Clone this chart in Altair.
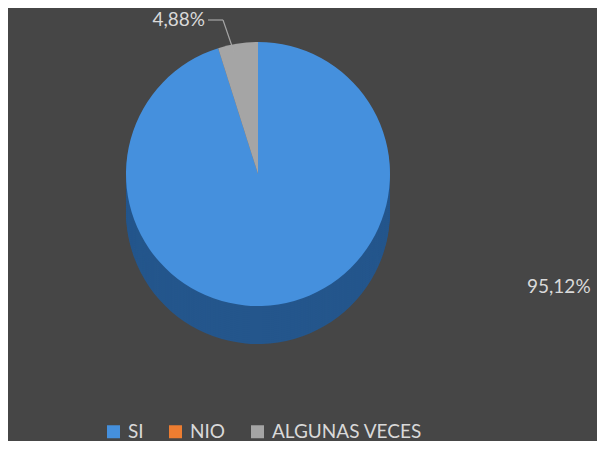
import altair as alt
import pandas as pd

categories = ["SI", "NIO", "ALGUNAS VECES"]
values = [95.12, 0.0, 4.88]
labels = ["95,12%", "", "4,88%"]
top_colors = ["#4590dd", "#ed7d31", "#a5a5a5"]
side_colors = ["#24568c", "#9c4f18", "#6b6b6b"]

df = pd.DataFrame({
    "cat": categories,
    "val": values,
    "label": labels,
    "idx": list(range(len(categories))),
    "side": side_colors,
})

W, H = 589, 433
CX, CY, R = 250, 166, 132
DEPTH = 38

base = alt.Chart(df)

layers = []
for d in range(DEPTH, 0, -2):
    layers.append(
        base.mark_arc(outerRadius=R, stroke=None).encode(
            theta=alt.Theta("val:Q", stack=True),
            order=alt.Order("idx:Q"),
            color=alt.Color("side:N", scale=None),
            x=alt.value(CX),
            y=alt.value(CY + d),
        )
    )

top = base.mark_arc(outerRadius=R, stroke=None).encode(
    theta=alt.Theta("val:Q", stack=True),
    order=alt.Order("idx:Q"),
    color=alt.Color(
        "cat:N",
        scale=alt.Scale(domain=categories, range=top_colors),
        sort=categories,
        legend=alt.Legend(
            title=None,
            orient="none",
            legendX=96,
            legendY=414,
            direction="horizontal",
            symbolType="square",
            symbolSize=169,
            symbolStrokeWidth=0,
            labelColor="#d9d9d9",
            labelFont="Lato",
            labelFontSize=19,
            labelOffset=5,
            columnPadding=22,
        ),
    ),
    x=alt.value(CX),
    y=alt.value(CY),
)
layers.append(top)

lab_small = base.transform_filter(alt.datum.cat == "ALGUNAS VECES").mark_text(
    align="right", baseline="middle", font="Lato", fontSize=19, color="#d9d9d9"
).encode(text="label:N", x=alt.value(197), y=alt.value(12))

lab_big = base.transform_filter(alt.datum.cat == "SI").mark_text(
    align="left", baseline="middle", font="Lato", fontSize=19, color="#d9d9d9"
).encode(text="label:N", x=alt.value(519), y=alt.value(279))

lead1 = base.transform_filter(alt.datum.cat == "ALGUNAS VECES").mark_rule(
    color="#a6a6a6", strokeWidth=1.2
).encode(x=alt.value(200), x2=alt.value(215), y=alt.value(12), y2=alt.value(12))
lead2 = base.transform_filter(alt.datum.cat == "ALGUNAS VECES").mark_rule(
    color="#a6a6a6", strokeWidth=1.2
).encode(x=alt.value(215), x2=alt.value(226), y=alt.value(12), y2=alt.value(44))

chart = alt.layer(*layers, lab_small, lab_big, lead1, lead2).properties(
    width=W, height=H, autosize=alt.AutoSizeParams(type="none"), padding=0,
    background="#464646",
).configure_view(stroke=None)

chart.save("out.html", embed_options={"renderer": "svg", "actions": False})
